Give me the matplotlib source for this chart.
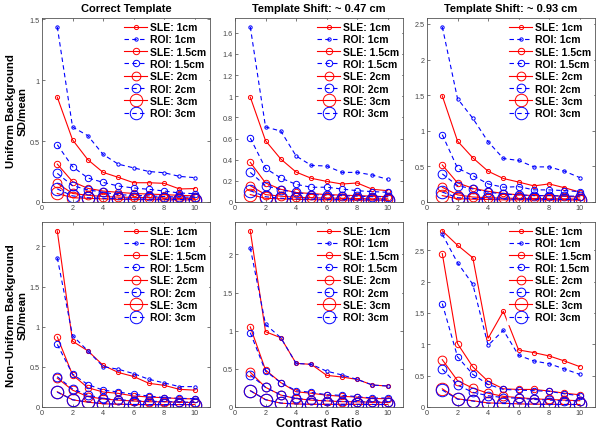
import numpy as np
import matplotlib
matplotlib.use("Agg")
import matplotlib.pyplot as plt
from matplotlib.ticker import FormatStrFormatter, MultipleLocator

plt.rcParams['font.family'] = ['Liberation Sans', 'DejaVu Sans']

contrast = [1, 2, 3, 4, 5, 6, 7, 8, 9, 10]
labels = ["SLE: 1cm", "ROI: 1cm", "SLE: 1.5cm", "ROI: 1.5cm",
          "SLE: 2cm", "ROI: 2cm", "SLE: 3cm", "ROI: 3cm"]
titles = ["Correct Template", "Template Shift: ~ 0.47 cm", "Template Shift: ~ 0.93 cm"]
row_labels = ["Uniform Background\nSD/mean", "Non\u2212Uniform Background\nSD/mean"]

# uniform background, correct template
u0_sle1 = [0.86, 0.51, 0.347, 0.243, 0.202, 0.158, 0.158, 0.153, 0.107, 0.11]
u0_roi1 = [1.437, 0.615, 0.544, 0.39, 0.31, 0.28, 0.25, 0.24, 0.21, 0.20]
u0_sle15 = [0.311, 0.167, 0.112, 0.09, 0.079, 0.07, 0.065, 0.06, 0.055, 0.05]
u0_roi15 = [0.47, 0.29, 0.197, 0.161, 0.131, 0.115, 0.104, 0.09, 0.074, 0.068]
u0_sle2 = [0.153, 0.07, 0.055, 0.045, 0.04, 0.038, 0.035, 0.033, 0.03, 0.03]
u0_roi2 = [0.235, 0.134, 0.1, 0.08, 0.06, 0.055, 0.05, 0.045, 0.04, 0.04]
u0_sle3 = [0.07, 0.035, 0.03, 0.025, 0.022, 0.02, 0.02, 0.018, 0.018, 0.017]
u0_roi3 = [0.107, 0.05, 0.035, 0.03, 0.027, 0.025, 0.023, 0.022, 0.02, 0.02]

# uniform background, shift 0.47 cm
u1_sle1 = [0.992, 0.58, 0.406, 0.283, 0.224, 0.195, 0.17, 0.18, 0.12, 0.107]
u1_roi1 = [1.657, 0.709, 0.671, 0.435, 0.346, 0.34, 0.28, 0.28, 0.255, 0.214]
u1_sle15 = [0.375, 0.18, 0.12, 0.09, 0.08, 0.07, 0.065, 0.06, 0.055, 0.05]
u1_roi15 = [0.605, 0.318, 0.227, 0.167, 0.139, 0.14, 0.123, 0.107, 0.098, 0.092]
u1_sle2 = [0.154, 0.07, 0.055, 0.045, 0.04, 0.038, 0.035, 0.033, 0.03, 0.03]
u1_roi2 = [0.28, 0.154, 0.116, 0.09, 0.07, 0.065, 0.06, 0.055, 0.05, 0.05]
u1_sle3 = [0.07, 0.035, 0.03, 0.025, 0.022, 0.02, 0.02, 0.018, 0.018, 0.017]
u1_roi3 = [0.107, 0.05, 0.035, 0.03, 0.027, 0.025, 0.023, 0.022, 0.02, 0.02]

# uniform background, shift 0.93 cm
u2_sle1 = [1.49, 0.855, 0.62, 0.432, 0.33, 0.28, 0.226, 0.254, 0.2, 0.14]
u2_roi1 = [2.46, 1.45, 1.175, 0.846, 0.611, 0.583, 0.493, 0.493, 0.432, 0.343]
u2_sle15 = [0.52, 0.268, 0.193, 0.15, 0.12, 0.1, 0.09, 0.09, 0.08, 0.07]
u2_roi15 = [0.945, 0.475, 0.371, 0.254, 0.207, 0.216, 0.17, 0.17, 0.16, 0.146]
u2_sle2 = [0.207, 0.1, 0.07, 0.06, 0.055, 0.05, 0.05, 0.045, 0.045, 0.04]
u2_roi2 = [0.395, 0.23, 0.183, 0.14, 0.11, 0.1, 0.09, 0.09, 0.085, 0.08]
u2_sle3 = [0.09, 0.045, 0.04, 0.035, 0.03, 0.03, 0.03, 0.03, 0.028, 0.028]
u2_roi3 = [0.14, 0.06, 0.05, 0.045, 0.04, 0.04, 0.038, 0.037, 0.035, 0.035]

# non-uniform background, correct template
n0_sle1 = [2.195, 0.82, 0.70, 0.52, 0.43, 0.38, 0.295, 0.27, 0.22, 0.21]
n0_roi1 = [1.86, 0.89, 0.70, 0.503, 0.47, 0.416, 0.345, 0.30, 0.254, 0.254]
n0_sle15 = [0.873, 0.40, 0.24, 0.187, 0.17, 0.137, 0.125, 0.115, 0.105, 0.1]
n0_roi15 = [0.78, 0.41, 0.28, 0.21, 0.187, 0.158, 0.137, 0.117, 0.108, 0.104]
n0_sle2 = [0.36, 0.21, 0.13, 0.1, 0.085, 0.075, 0.065, 0.065, 0.06, 0.055]
n0_roi2 = [0.378, 0.224, 0.15, 0.108, 0.09, 0.08, 0.07, 0.07, 0.06, 0.06]
n0_sle3 = [0.19, 0.09, 0.06, 0.04, 0.035, 0.03, 0.03, 0.03, 0.03, 0.03]
n0_roi3 = [0.185, 0.09, 0.062, 0.042, 0.036, 0.032, 0.03, 0.03, 0.03, 0.03]

# non-uniform background, shift 0.47 cm
n1_sle1 = [2.31, 0.987, 0.908, 0.572, 0.559, 0.415, 0.393, 0.362, 0.288, 0.275]
n1_roi1 = [2.087, 1.083, 0.908, 0.572, 0.559, 0.47, 0.42, 0.362, 0.288, 0.275]
n1_sle15 = [1.05, 0.485, 0.32, 0.2, 0.18, 0.155, 0.14, 0.13, 0.11, 0.11]
n1_roi15 = [0.974, 0.47, 0.32, 0.214, 0.192, 0.161, 0.153, 0.136, 0.118, 0.118]
n1_sle2 = [0.455, 0.258, 0.157, 0.11, 0.09, 0.08, 0.07, 0.068, 0.063, 0.06]
n1_roi2 = [0.42, 0.258, 0.157, 0.114, 0.096, 0.083, 0.075, 0.07, 0.066, 0.066]
n1_sle3 = [0.214, 0.096, 0.05, 0.04, 0.035, 0.035, 0.035, 0.035, 0.033, 0.033]
n1_roi3 = [0.214, 0.096, 0.052, 0.04, 0.036, 0.035, 0.035, 0.035, 0.033, 0.033]

# non-uniform background, shift 0.93 cm
n2_sle1 = [2.81, 2.58, 2.38, 1.096, 1.527, 0.91, 0.867, 0.814, 0.734, 0.644]
n2_roi1 = [2.755, 2.30, 1.957, 0.984, 1.223, 0.824, 0.734, 0.69, 0.606, 0.52]
n2_sle15 = [2.447, 1.01, 0.64, 0.41, 0.29, 0.28, 0.28, 0.255, 0.22, 0.195]
n2_roi15 = [1.65, 0.8, 0.52, 0.36, 0.28, 0.27, 0.26, 0.25, 0.21, 0.18]
n2_sle2 = [0.755, 0.42, 0.30, 0.22, 0.17, 0.15, 0.13, 0.12, 0.11, 0.10]
n2_roi2 = [0.606, 0.35, 0.234, 0.18, 0.15, 0.14, 0.12, 0.11, 0.10, 0.10]
n2_sle3 = [0.29, 0.13, 0.1, 0.065, 0.06, 0.05, 0.045, 0.045, 0.04, 0.04]
n2_roi3 = [0.27, 0.125, 0.095, 0.06, 0.055, 0.05, 0.045, 0.04, 0.04, 0.04]

panels = [
    [u0_sle1, u0_roi1, u0_sle15, u0_roi15, u0_sle2, u0_roi2, u0_sle3, u0_roi3],
    [u1_sle1, u1_roi1, u1_sle15, u1_roi15, u1_sle2, u1_roi2, u1_sle3, u1_roi3],
    [u2_sle1, u2_roi1, u2_sle15, u2_roi15, u2_sle2, u2_roi2, u2_sle3, u2_roi3],
    [n0_sle1, n0_roi1, n0_sle15, n0_roi15, n0_sle2, n0_roi2, n0_sle3, n0_roi3],
    [n1_sle1, n1_roi1, n1_sle15, n1_roi15, n1_sle2, n1_roi2, n1_sle3, n1_roi3],
    [n2_sle1, n2_roi1, n2_sle15, n2_roi15, n2_sle2, n2_roi2, n2_sle3, n2_roi3],
]
ytick_step = [0.5, 0.2, 0.5, 0.5, 0.5, 0.5]

marker_sizes = [3.0, 2.4, 4.6, 4.6, 6.3, 6.3, 9.0, 9.0]
W, H = 600.0, 431.0
lefts = [42, 235, 427]
row_boxes = [(19, 203), (223, 408)]
axw = 168

fig = plt.figure(figsize=(6.0, 4.31), dpi=100)

for k in range(6):
    r, c = k // 3, k % 3
    top, bot = row_boxes[r]
    ax = fig.add_axes([lefts[c] / W, 1 - bot / H, axw / W, (bot - top) / H])
    data = panels[k]
    for i in range(8):
        if i % 2 == 0:
            ax.plot(contrast, data[i], '-o', color='red', lw=0.8, ms=marker_sizes[i],
                    mfc='none', mew=0.7, label=labels[i])
        else:
            ax.plot(contrast, data[i], '--o', color='blue', lw=0.8, ms=marker_sizes[i],
                    mfc='none', mew=0.7, dashes=(4, 3), label=labels[i])
    ymax = max(max(d) for d in data) * 1.05
    ax.set_xlim(0, 11)
    ax.set_ylim(0, ymax)
    ax.set_xticks([0, 2, 4, 6, 8, 10])
    ax.yaxis.set_major_locator(MultipleLocator(ytick_step[k]))
    ax.yaxis.set_major_formatter(FormatStrFormatter('%g'))
    ax.tick_params(direction='in', length=2.5, width=0.5, labelsize=5.2,
                   labelcolor='#444444', color='#444444', pad=1.5,
                   top=True, right=True)
    for s in ax.spines.values():
        s.set_linewidth(0.6)
        s.set_color('#555555')
    leg = ax.legend(loc='upper right', handlelength=2.2,
                    handletextpad=0.25, labelspacing=0.22, borderaxespad=0.2,
                    borderpad=0.2, frameon=True, fancybox=False,
                    prop={'weight': 'bold', 'size': 7.5})
    leg.get_frame().set_edgecolor('white')
    leg.get_frame().set_alpha(1.0)
    if r == 0:
        ax.set_title(titles[c], fontsize=8, fontweight='bold', pad=5)
    if c == 0:
        ax.set_ylabel(row_labels[r], fontsize=8.2, fontweight='bold')
        ax.yaxis.set_label_coords(-0.085, 0.5)
    if r == 1 and c == 1:
        ax.set_xlabel("Contrast Ratio", fontsize=9, fontweight='bold', labelpad=1)

fig.savefig("out.png", dpi=100)
